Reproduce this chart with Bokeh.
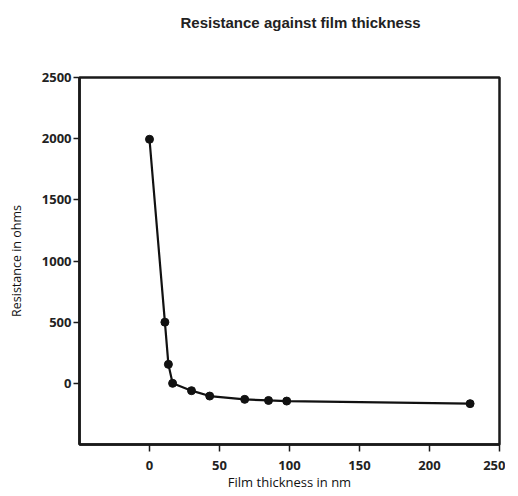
from bokeh.plotting import figure
from bokeh.models import Range1d, FixedTicker, Title
from bokeh.embed import file_html
from bokeh.resources import INLINE

thickness_nm = [0, 11, 13.5, 16.5, 30, 43, 68, 85, 98, 229]
resistance_ohms = [1995, 500, 155, 0, -60, -104, -131, -140, -145, -166]
x_ticks = [0, 50, 100, 150, 200, 250]
y_ticks = [0, 500, 1000, 1500, 2000, 2500]
title_text = "Resistance against film thickness"

p = figure(width=505, height=496, output_backend="svg", toolbar_location=None,
           x_range=Range1d(-50, 250), y_range=Range1d(-500, 2500),
           min_border_left=79, min_border_right=6, min_border_top=77, min_border_bottom=52)

# spacer between title and frame
p.add_layout(Title(text=" ", text_font_size="12px", standoff=31), "above")

p.title.text = title_text
p.title.align = "left"
p.title.offset = 101
p.title.text_font = "Liberation Sans"
p.title.text_font_style = "bold"
p.title.text_font_size = "15px"
p.title.text_color = "#222222"
p.title.standoff = 0

p.grid.visible = False
p.outline_line_color = "#1a1a1a"
p.outline_line_width = 2.5
p.outline_line_alpha = 1

for ax in (p.xaxis[0], p.yaxis[0]):
    ax.axis_line_color = "#1a1a1a"
    ax.axis_line_width = 2.5
    ax.major_tick_line_color = "#1a1a1a"
    ax.major_tick_line_width = 1.5
    ax.major_tick_in = 0
    ax.minor_tick_line_color = None
    ax.major_label_text_font = "Open Sans"
    ax.major_label_text_font_style = "bold"
    ax.major_label_text_font_size = "13px"
    ax.major_label_text_color = "#222222"
    ax.axis_label_text_font = "Open Sans"
    ax.axis_label_text_font_style = "normal"
    ax.axis_label_text_color = "#111111"

p.xaxis.major_tick_out = 7
p.yaxis.major_tick_out = 6
p.xaxis.ticker = FixedTicker(ticks=x_ticks)
p.yaxis.ticker = FixedTicker(ticks=y_ticks)
p.xaxis.axis_label = "Film thickness in nm"
p.yaxis.axis_label = "Resistance in ohms"
p.xaxis.axis_label_text_font_size = "13px"
p.yaxis.axis_label_text_font_size = "12.5px"
p.xaxis.major_label_standoff = 9
p.yaxis.major_label_standoff = 2
p.xaxis.axis_label_standoff = 0
p.yaxis.axis_label_standoff = 14

p.line(thickness_nm, resistance_ohms, line_color="#111111", line_width=2.2)
p.scatter(thickness_nm, resistance_ohms, size=8, fill_color="#111111", line_color="#111111")

open("out.html", "w").write(file_html(p, INLINE))
